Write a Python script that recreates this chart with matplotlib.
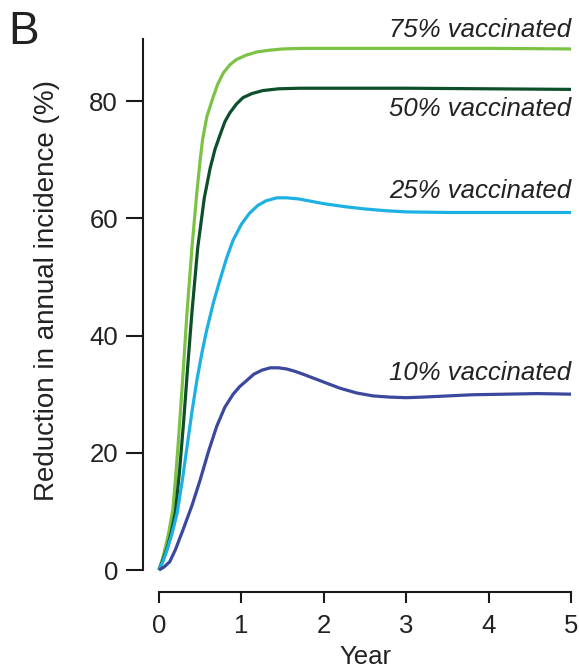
import matplotlib
matplotlib.use("Agg")
import matplotlib.pyplot as plt

plt.rcParams["font.family"] = ["Liberation Sans", "DejaVu Sans"]

# ── data ──
years_75 = [0, 0.04, 0.08, 0.12, 0.17, 0.2, 0.23, 0.28, 0.34, 0.4, 0.46, 0.5, 0.53,
            0.58, 0.65, 0.71, 0.78, 0.86, 0.94, 1.05, 1.19, 1.35, 1.5, 1.75, 2.07,
            2.5, 3.0, 4.0, 5.0]
red_75 = [0, 1.8, 4.0, 6.5, 10.5, 15.5, 21.0, 31.0, 43.9, 55.0, 64.5, 70.0, 73.5,
          77.3, 80.4, 82.8, 84.8, 86.2, 87.1, 87.8, 88.4, 88.7, 88.9, 89.0, 89.0,
          89.0, 89.0, 89.0, 88.9]

years_50 = [0, 0.05, 0.1, 0.15, 0.2, 0.25, 0.3, 0.35, 0.4, 0.47, 0.55, 0.62, 0.68,
            0.74, 0.8, 0.86, 0.94, 1.02, 1.13, 1.26, 1.45, 1.71, 2.0, 3.0, 4.0, 5.0]
red_50 = [0, 1.8, 3.8, 6.5, 10.0, 17.0, 25.5, 35.0, 44.0, 55.0, 63.5, 68.5, 71.8,
          74.2, 76.5, 78.0, 79.5, 80.6, 81.3, 81.8, 82.1, 82.2, 82.2, 82.2, 82.1, 82.0]

years_25 = [0, 0.05, 0.1, 0.16, 0.22, 0.28, 0.34, 0.4, 0.46, 0.52, 0.58, 0.66, 0.74,
            0.82, 0.9, 1.0, 1.1, 1.2, 1.3, 1.43, 1.55, 1.7, 1.85, 2.0, 2.25, 2.5,
            2.75, 3.0, 3.5, 4.0, 5.0]
red_25 = [0, 1.5, 3.5, 6.3, 9.7, 15.0, 21.0, 27.0, 32.4, 37.0, 41.0, 45.6, 49.5,
          53.2, 56.3, 59.0, 60.9, 62.2, 63.0, 63.5, 63.5, 63.3, 62.9, 62.5, 62.0, 61.6,
          61.3, 61.1, 61.0, 61.0, 61.0]

years_10 = [0, 0.06, 0.13, 0.2, 0.29, 0.4, 0.5, 0.6, 0.7, 0.8, 0.9, 0.98, 1.07, 1.15,
            1.25, 1.35, 1.45, 1.55, 1.65, 1.75, 1.9, 2.03, 2.2, 2.4, 2.6, 2.8, 3.0,
            3.2, 3.5, 3.8, 4.2, 4.6, 5.0]
red_10 = [0, 0.5, 1.4, 3.5, 6.8, 11.0, 15.4, 20.2, 24.5, 27.8, 30.0, 31.3, 32.4, 33.4,
          34.1, 34.5, 34.5, 34.3, 33.9, 33.4, 32.6, 31.9, 31.0, 30.2, 29.7, 29.5, 29.4,
          29.5, 29.7, 29.9, 30.0, 30.1, 30.0]

labels = ["75% vaccinated", "50% vaccinated", "25% vaccinated", "10% vaccinated"]
label_y = [92.2, 78.6, 64.6, 33.6]
colors = ["#7cc245", "#0d4f2b", "#1db1e3", "#3a489e"]

series = [(years_75, red_75), (years_50, red_50), (years_25, red_25), (years_10, red_10)]

fig = plt.figure(figsize=(5.79, 6.71), dpi=100)
ax = fig.add_axes([0.2746, 0.1505, 0.7116, 0.7914])

for (xs, ys), c in zip(series, colors):
    ax.plot(xs, ys, color=c, linewidth=2.3, solid_joinstyle="round",
            solid_capstyle="butt", clip_on=False)

for lab, ly in zip(labels, label_y):
    ax.text(5.0, ly, lab, ha="right", va="center", fontsize=18.5,
            style="italic", color="#222222")

ax.set_xlim(0, 5)
ax.set_ylim(0, 90.6)
ax.set_xticks([0, 1, 2, 3, 4, 5])
ax.set_yticks([0, 20, 40, 60, 80])

for s in ["top", "right"]:
    ax.spines[s].set_visible(False)
ax.spines["left"].set_position(("outward", 11.5))
ax.spines["bottom"].set_position(("outward", 16))
for s in ["left", "bottom"]:
    ax.spines[s].set_linewidth(1.5)
    ax.spines[s].set_color("#1a1a1a")

ax.tick_params(axis="y", length=12, width=1.5, pad=6, labelsize=18.5,
               color="#1a1a1a", labelcolor="#222222")
ax.tick_params(axis="x", length=8, width=1.5, pad=8, labelsize=18.5,
               color="#1a1a1a", labelcolor="#222222")

ax.set_ylabel("Reduction in annual incidence (%)", fontsize=20, color="#222222")
ax.yaxis.set_label_coords(-0.240, 0.527)
ax.set_xlabel("Year", fontsize=18.5, color="#222222", va="center")
ax.xaxis.set_label_coords(0.5, -0.164)

fig.text(0.015, 0.985, "B", fontsize=33, va="top", ha="left", color="#222222")

fig.savefig("out.png", dpi=100)
